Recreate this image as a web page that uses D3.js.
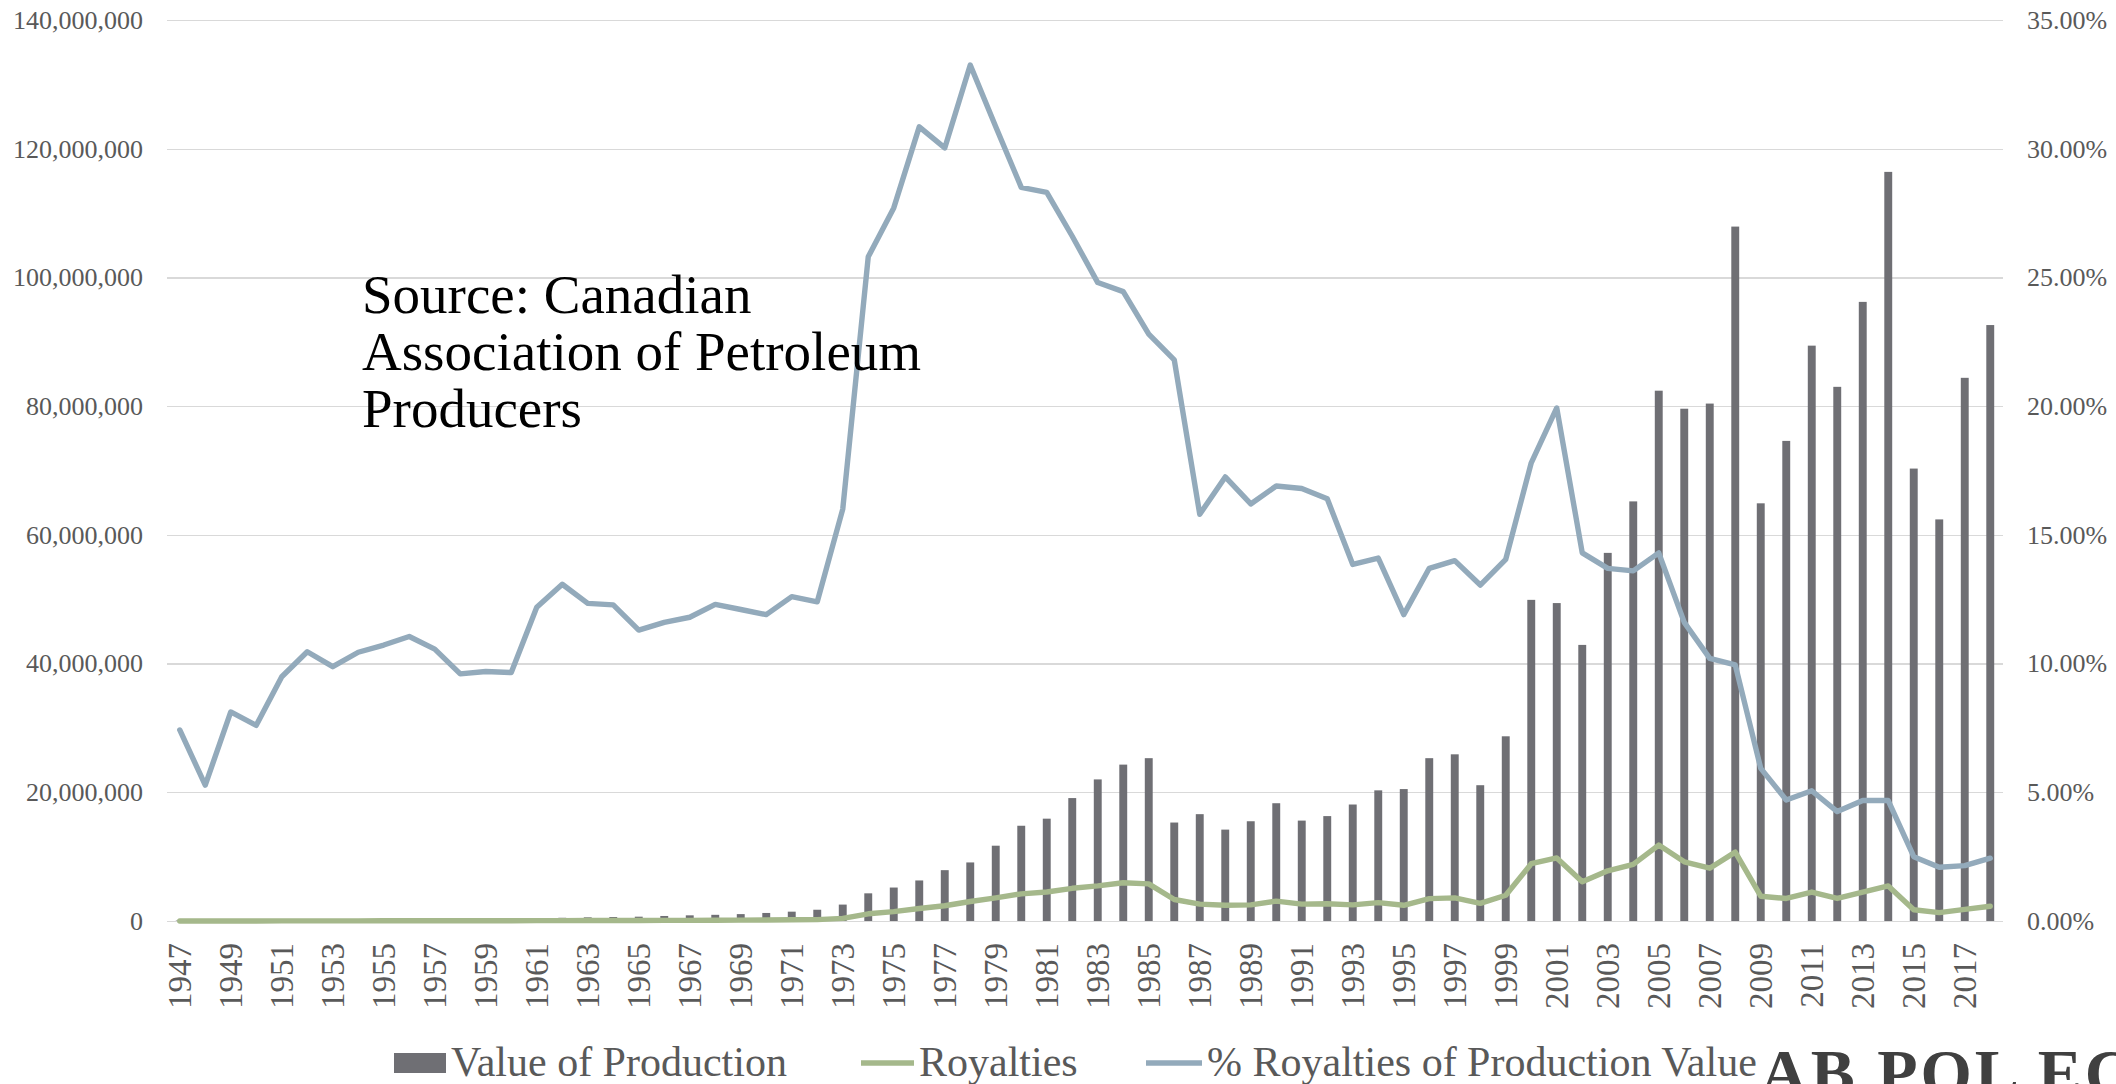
<!DOCTYPE html>
<html lang="en">
<head>
<meta charset="UTF-8">
<title>Value of Production and Royalties</title>
<style>
  body { margin: 0; background: #fff; }
  svg { display: block; }
  svg text { font-family: "Liberation Serif", "DejaVu Serif", serif !important; }
  .grid line { stroke: #d9d9d9; stroke-width: 1.4px; shape-rendering: crispEdges; }
  .grid path { display: none; }
  .axis path, .axis line { display: none; }
  .axis text { fill: #595959; }
  .line { fill: none; stroke-width: 5.4px; stroke-linejoin: round; stroke-linecap: round; }
</style>
</head>
<body>
<svg width="2116" height="1084"></svg>
<script src="https://d3js.org/d3.v7.min.js"></script>
<script>
// years on the category axis
const years = [
  1947, 1948, 1949, 1950, 1951, 1952, 1953, 1954, 1955, 1956,
  1957, 1958, 1959, 1960, 1961, 1962, 1963, 1964, 1965, 1966,
  1967, 1968, 1969, 1970, 1971, 1972, 1973, 1974, 1975, 1976,
  1977, 1978, 1979, 1980, 1981, 1982, 1983, 1984, 1985, 1986,
  1987, 1988, 1989, 1990, 1991, 1992, 1993, 1994, 1995, 1996,
  1997, 1998, 1999, 2000, 2001, 2002, 2003, 2004, 2005, 2006,
  2007, 2008, 2009, 2010, 2011, 2012, 2013, 2014, 2015, 2016,
  2017, 2018
];

// value of production, millions
const production = [
  0.07, 0.08, 0.09, 0.11, 0.14, 0.17, 0.2, 0.23, 0.28, 0.33,
  0.35, 0.33, 0.36, 0.38, 0.44, 0.5, 0.57, 0.62, 0.67, 0.78,
  0.88, 0.96, 1.07, 1.25, 1.45, 1.75, 2.55, 4.3, 5.2, 6.3,
  7.9, 9.1, 11.7, 14.8, 15.9, 19.1, 22.0, 24.3, 25.3, 15.3,
  16.6, 14.2, 15.5, 18.3, 15.6, 16.3, 18.1, 20.3, 20.5, 25.3,
  25.9, 21.1, 28.7, 49.9, 49.4, 42.9, 57.2, 65.2, 82.4, 79.6,
  80.4, 107.9, 64.9, 74.6, 89.4, 83.0, 96.2, 116.4, 70.3, 62.4,
  84.4, 92.6
];

// royalties, millions
const royalties = [
  0.005, 0.004, 0.007, 0.008, 0.013, 0.018, 0.02, 0.024, 0.03, 0.036,
  0.037, 0.032, 0.035, 0.037, 0.054, 0.065, 0.07, 0.076, 0.076, 0.09,
  0.104, 0.118, 0.13, 0.149, 0.183, 0.217, 0.41, 1.12, 1.45, 1.95,
  2.37, 3.03, 3.6, 4.22, 4.5, 5.08, 5.46, 5.95, 5.77, 3.34,
  2.62, 2.45, 2.51, 3.09, 2.62, 2.67, 2.5, 2.86, 2.44, 3.47,
  3.6, 2.75, 4.0, 8.9, 9.8, 6.1, 7.8, 8.8, 11.8, 9.2,
  8.2, 10.7, 3.85, 3.5, 4.5, 3.5, 4.5, 5.45, 1.75, 1.3,
  1.8, 2.3
];

// royalties as % of production value
const royaltyPct = [
  7.42, 5.28, 8.12, 7.6, 9.49, 10.46, 9.88, 10.44, 10.72, 11.05,
  10.56, 9.6, 9.69, 9.65, 12.19, 13.08, 12.34, 12.28, 11.3, 11.6,
  11.8, 12.3, 12.1, 11.9, 12.6, 12.4, 16.0, 25.8, 27.7, 30.85,
  30.03, 33.25, 30.85, 28.5, 28.3, 26.6, 24.8, 24.45, 22.8, 21.8,
  15.8, 17.25, 16.2, 16.9, 16.8, 16.4, 13.85, 14.1, 11.9, 13.7,
  14.0, 13.05, 14.05, 17.8, 19.93, 14.3, 13.7, 13.6, 14.3, 11.6,
  10.2, 9.95, 5.93, 4.7, 5.06, 4.25, 4.68, 4.68, 2.5, 2.09,
  2.15, 2.44
];

const leftTicks = [0, 20, 40, 60, 80, 100, 120, 140];
const rightTicks = [0, 0.05, 0.10, 0.15, 0.20, 0.25, 0.30, 0.35];
const seriesNames = ["Value of Production", "Royalties", "% Royalties of Production Value"];
const sourceLines = ["Source: Canadian", "Association of Petroleum", "Producers"];

const colors = { bar: "#6f6f74", green: "#a5b88b", blue: "#93aabb" };

const plot = { left: 167, right: 2003, top: 20, bottom: 921 };

const svg = d3.select("svg");

const x = d3.scaleBand()
    .domain(years)
    .range([plot.left, plot.right])
    .paddingInner(0.69)
    .paddingOuter(0.345);
const cx = d => x(d) + x.bandwidth() / 2;

const y = d3.scaleLinear().domain([0, 140]).range([plot.bottom, plot.top]);
const yPct = d3.scaleLinear().domain([0, 0.35]).range([plot.bottom, plot.top]);

// gridlines
svg.append("g")
    .attr("class", "grid")
    .attr("transform", "translate(" + plot.left + ",0)")
    .call(d3.axisLeft(y).tickValues(leftTicks).tickSize(-(plot.right - plot.left)).tickFormat(""));

// left axis
svg.append("g")
    .attr("class", "axis")
    .attr("transform", "translate(" + plot.left + ",0)")
    .call(d3.axisLeft(y).tickValues(leftTicks).tickSize(0).tickPadding(24)
        .tickFormat(d => d3.format(",")(d * 1e6)))
    .selectAll("text")
    .style("font-size", "26px");

// right axis
svg.append("g")
    .attr("class", "axis")
    .attr("transform", "translate(" + plot.right + ",0)")
    .call(d3.axisRight(yPct).tickValues(rightTicks).tickSize(0).tickPadding(24)
        .tickFormat(d3.format(".2%")))
    .selectAll("text")
    .style("font-size", "26px");

// x axis, every other year
svg.append("g")
    .attr("class", "axis")
    .attr("transform", "translate(0," + plot.bottom + ")")
    .call(d3.axisBottom(x).tickValues(years.filter((d, i) => i % 2 === 0)).tickSize(0))
    .selectAll("text")
    .attr("transform", "rotate(-90)")
    .attr("x", -22)
    .attr("y", 0)
    .attr("dy", "0.34em")
    .style("text-anchor", "end")
    .style("font-size", "33px");

// bars
svg.append("g")
    .selectAll("rect")
    .data(years)
    .join("rect")
    .attr("x", d => x(d))
    .attr("width", x.bandwidth())
    .attr("y", (d, i) => y(production[i]))
    .attr("height", (d, i) => y(0) - y(production[i]))
    .attr("fill", colors.bar);

// royalties line
svg.append("path")
    .datum(years)
    .attr("class", "line")
    .attr("stroke", colors.green)
    .attr("d", d3.line().x(d => cx(d)).y((d, i) => y(royalties[i])));

// percent line
svg.append("path")
    .datum(years)
    .attr("class", "line")
    .attr("stroke", colors.blue)
    .attr("d", d3.line().x(d => cx(d)).y((d, i) => yPct(royaltyPct[i] / 100)));

// source note
const note = svg.append("text")
    .attr("x", 362)
    .attr("y", 313)
    .style("font-size", "55px")
    .attr("fill", "#000");
note.selectAll("tspan")
    .data(sourceLines)
    .join("tspan")
    .attr("x", 362)
    .attr("dy", (d, i) => i === 0 ? 0 : 57)
    .text(d => d);

// legend
const legend = svg.append("g").style("font-size", "42px").attr("fill", "#595959");
legend.append("rect")
    .attr("x", 394).attr("y", 1053).attr("width", 52).attr("height", 20)
    .attr("fill", colors.bar);
legend.append("text").attr("x", 451).attr("y", 1076).text(seriesNames[0]);

legend.append("line")
    .attr("x1", 861).attr("x2", 914).attr("y1", 1063).attr("y2", 1063)
    .attr("stroke", colors.green).attr("stroke-width", 5.4);
legend.append("text").attr("x", 919).attr("y", 1076).text(seriesNames[1]);

legend.append("line")
    .attr("x1", 1146).attr("x2", 1202).attr("y1", 1063).attr("y2", 1063)
    .attr("stroke", colors.blue).attr("stroke-width", 5.4);
legend.append("text").attr("x", 1207).attr("y", 1076).text(seriesNames[2]);

// site logo, clipped at the bottom right
svg.append("text")
    .attr("x", 1760)
    .attr("y", 1095)
    .style("font-size", "66px")
    .style("font-weight", "bold")
    .style("letter-spacing", "3px")
    .attr("fill", "#404040")
    .text("AB POL EC");
</script>
</body>
</html>
